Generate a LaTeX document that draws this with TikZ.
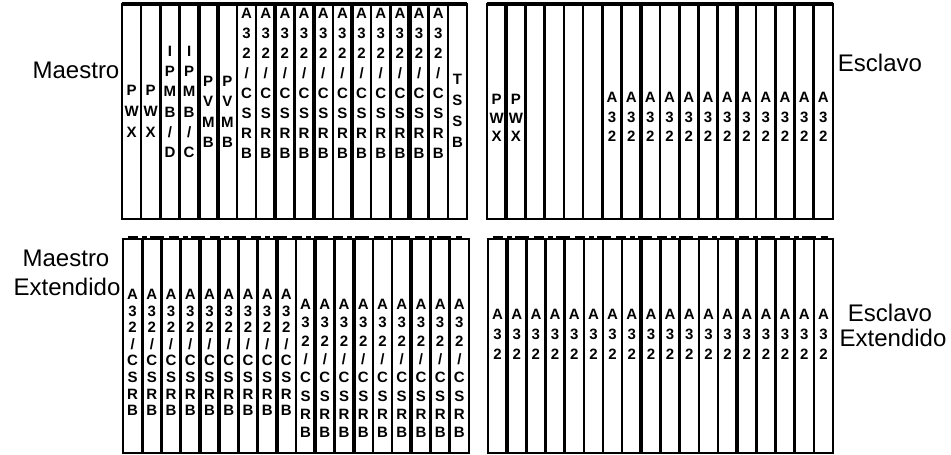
\documentclass[tikz,border=0pt]{standalone}
\usepackage{fontspec}
\setmainfont{Liberation Sans}
\begin{document}
\begin{tikzpicture}[x=1pt,y=-1pt,
  panel/.style={line width=2.6pt},
  topedge/.style={line width=3.6pt},
  div/.style={line width=2.6pt},
  divthick/.style={line width=4.2pt},
  brokenedge/.style={line width=2pt, dash pattern=on 10pt off 4pt on 5pt off 3pt on 14pt off 5pt},
  side/.style={font=\fontsize{24}{26}\selectfont, inner sep=0pt},
  slotlabel/.style={font=\bfseries\fontsize{15}{#1}\selectfont, align=center, anchor=north, inner sep=0pt}
]
\useasboundingbox (0,0) rectangle (951,455);

% ---------- top-left panel (Maestro) ----------
\def\pxA{122}\def\pwA{19.1667}
\draw[panel] (122,4) rectangle (467,219);
\draw[topedge] (122,4) -- (467,4);
\foreach \i in {1,2,3,6,7,9,11,13,14,16,17}
  \draw[div] ({\pxA+\i*\pwA},4) -- ({\pxA+\i*\pwA},219);
\foreach \i in {4,5,8,10,12,15}
  \draw[divthick] ({\pxA+\i*\pwA},4) -- ({\pxA+\i*\pwA},219);
\foreach \i in {1,2}
  \node[slotlabel=21] (tl\i) at ({\pxA+(\i-0.5)*\pwA},85) {P\\W\\X};
\node[slotlabel=20.2] (tl3) at ({\pxA+2.5*\pwA},46) {I\\P\\M\\B\\/\\D};
\node[slotlabel=20.2] (tl4) at ({\pxA+3.5*\pwA},46) {I\\P\\M\\B\\/\\C};
\node[slotlabel=20.3] (tl5) at ({\pxA+4.5*\pwA},76) {P\\V\\M\\B};
\node[slotlabel=20.3] (tl6) at ({\pxA+5.5*\pwA},76) {P\\V\\M\\B};
\foreach \i in {7,...,17}
  \node[slotlabel=20] (tl\i) at ({\pxA+(\i-0.5)*\pwA},8) {A\\3\\2\\/\\C\\S\\R\\B};
\node[slotlabel=21] (tl18) at ({\pxA+17.5*\pwA},74) {T\\S\\S\\B};
\node[side] (maestro) at (76,70) {Maestro};

% ---------- top-right panel (Esclavo) ----------
\def\pxB{487}\def\pwB{19.2222}
\draw[panel] (487,4) rectangle (833,219);
\draw[topedge] (487,4) -- (833,4);
\foreach \i in {2,3,4,5,6,7,9,10,11,12,14,15,16,17}
  \draw[div] ({\pxB+\i*\pwB},4) -- ({\pxB+\i*\pwB},219);
\foreach \i in {1,8,13}
  \draw[divthick] ({\pxB+\i*\pwB},4) -- ({\pxB+\i*\pwB},219);
\foreach \i in {1,2}
  \node[slotlabel=18.5] (tr\i) at ({\pxB+(\i-0.5)*\pwB},94) {P\\W\\X};
\foreach \i in {7,...,18}
  \node[slotlabel=19.5] (tr\i) at ({\pxB+(\i-0.5)*\pwB},92) {A\\3\\2};
\node[side] (esclavo) at (880,63) {Esclavo};

% ---------- bottom-left panel (Maestro Extendido) ----------
\def\pxC{123}\def\pwC{19.2222}
\draw[brokenedge] (128,237) -- (462,237);
\draw[panel] (123,239) rectangle (469,453);
\foreach \i in {1,2,3,6,7,9,11,13,14,16,17}
  \draw[div] ({\pxC+\i*\pwC},239) -- ({\pxC+\i*\pwC},453);
\foreach \i in {4,5,8,10,12,15}
  \draw[divthick] ({\pxC+\i*\pwC},239) -- ({\pxC+\i*\pwC},453);
\foreach \i in {1,...,9}
  \node[slotlabel=16.6] (bl\i) at ({\pxC+(\i-0.5)*\pwC},289) {A\\3\\2\\/\\C\\S\\R\\B};
\foreach \i in {10,...,18}
  \node[slotlabel=18.3] (bl\i) at ({\pxC+(\i-0.5)*\pwC},299) {A\\3\\2\\/\\C\\S\\R\\B};
\node[side] (maestroext1) at (66,258) {Maestro};
\node[side] (maestroext2) at (67,287) {Extendido};

% ---------- bottom-right panel (Esclavo Extendido) ----------
\def\pxD{488}\def\pwD{19.1667}
\draw[brokenedge] (493,237) -- (828,237);
\draw[panel] (488,239) rectangle (833,453);
\foreach \i in {2,3,4,5,6,7,9,10,11,12,14,15,16,17}
  \draw[div] ({\pxD+\i*\pwD},239) -- ({\pxD+\i*\pwD},453);
\foreach \i in {1,8,13}
  \draw[divthick] ({\pxD+\i*\pwD},239) -- ({\pxD+\i*\pwD},453);
\foreach \i in {1,...,18}
  \node[slotlabel=20] (br\i) at ({\pxD+(\i-0.5)*\pwD},309) {A\\3\\2};
\node[side] (esclavoext1) at (890,313) {Esclavo};
\node[side] (esclavoext2) at (893,338) {Extendido};
\end{tikzpicture}
\end{document}
